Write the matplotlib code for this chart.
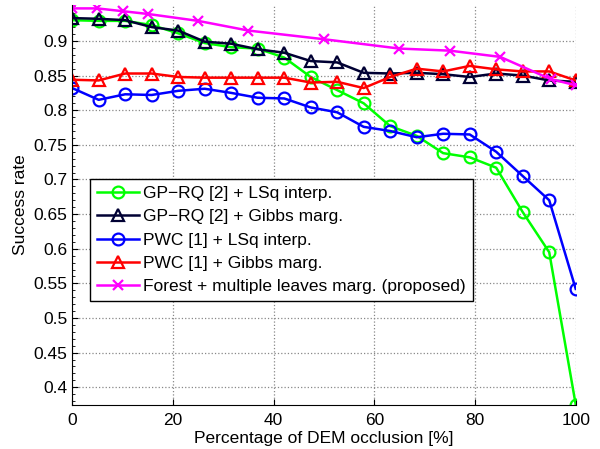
#!/usr/bin/env python3
"""
Plot success rate against DEM occlusion for the interpolation /
marginalisation variants and the proposed forest approach.
"""

import matplotlib
matplotlib.use('Agg')
import matplotlib.pyplot as plt
from matplotlib.ticker import MultipleLocator

# Occlusion levels shared by the four baseline curves (20 steps from 0 to 100 %)
OCCLUSION = [0, 5.26, 10.53, 15.79, 21.05, 26.32, 31.58, 36.84, 42.11, 47.37,
             52.63, 57.89, 63.16, 68.42, 73.68, 78.95, 84.21, 89.47, 94.74, 100]

GPRQ_LSQ = [0.930, 0.929, 0.929, 0.923, 0.911, 0.897, 0.891, 0.889, 0.876, 0.848,
            0.829, 0.810, 0.777, 0.763, 0.738, 0.732, 0.717, 0.653, 0.595, 0.375]
GPRQ_GIBBS = [0.933, 0.932, 0.930, 0.920, 0.915, 0.899, 0.896, 0.888, 0.883, 0.871,
              0.869, 0.854, 0.853, 0.854, 0.852, 0.848, 0.853, 0.850, 0.843, 0.841]
PWC_LSQ = [0.832, 0.815, 0.823, 0.822, 0.828, 0.831, 0.825, 0.818, 0.817, 0.804,
           0.797, 0.776, 0.770, 0.761, 0.766, 0.765, 0.740, 0.705, 0.670, 0.542]
PWC_GIBBS = [0.844, 0.843, 0.853, 0.853, 0.848, 0.847, 0.847, 0.847, 0.847, 0.840,
             0.841, 0.832, 0.848, 0.860, 0.856, 0.864, 0.859, 0.856, 0.856, 0.843]

# The proposed method was evaluated on its own set of occlusion levels
FOREST_OCCLUSION = [0, 5, 10, 15, 25, 35, 50, 65, 75, 85, 95, 100]
FOREST = [0.947, 0.947, 0.943, 0.939, 0.929, 0.915, 0.9025, 0.889, 0.886,
          0.877, 0.845, 0.836]

X_TICKS = [0, 20, 40, 60, 80, 100]
Y_TICKS = [0.4, 0.45, 0.5, 0.55, 0.6, 0.65, 0.7, 0.75, 0.8, 0.85, 0.9]


def main():
    plt.rcParams['font.family'] = ['Liberation Sans', 'DejaVu Sans']
    plt.rcParams['font.size'] = 12.5

    fig = plt.figure(figsize=(6.0, 4.49), dpi=100)
    ax = fig.add_axes([0.1203, 0.098, 0.8392, 0.891])

    common = dict(linewidth=1.8, markersize=8.5, markeredgewidth=1.6,
                  markerfacecolor='none')
    ax.plot(OCCLUSION, GPRQ_LSQ, marker='o', color='#00ff00',
            label='GP\u2212RQ [2] + LSq interp.', **common)
    ax.plot(OCCLUSION, GPRQ_GIBBS, marker='^', color='#000033',
            label='GP\u2212RQ [2] + Gibbs marg.', **common)
    ax.plot(OCCLUSION, PWC_LSQ, marker='o', color='#0000ff',
            label='PWC [1] + LSq interp.', **common)
    ax.plot(OCCLUSION, PWC_GIBBS, marker='^', color='#ff0000',
            label='PWC [1] + Gibbs marg.', **common)
    ax.plot(FOREST_OCCLUSION, FOREST, marker='x', color='#ff00ff',
            linewidth=1.8, markersize=7, markeredgewidth=1.6,
            label='Forest + multiple leaves marg. (proposed)')

    ax.set_xlim(0, 100)
    ax.set_ylim(0.3744, 0.952)
    ax.set_xticks(X_TICKS)
    ax.set_yticks(Y_TICKS)
    ax.set_yticklabels([f'{t:g}' for t in Y_TICKS])
    ax.yaxis.set_minor_locator(MultipleLocator(0.01))
    ax.tick_params(which='both', direction='in', top=False, right=False)
    ax.tick_params(which='major', length=4, width=0.8)
    ax.tick_params(axis='x', which='major', pad=6)
    ax.tick_params(which='minor', length=2, width=0.6)

    for side in ('top', 'right'):
        ax.spines[side].set_visible(False)

    ax.grid(True, which='major', linestyle=':', color='#888888', linewidth=0.9)
    ax.set_axisbelow(True)

    ax.set_xlabel('Percentage of DEM occlusion [%]', labelpad=2)
    ax.set_ylabel('Success rate', labelpad=4)

    leg = ax.legend(loc='upper left', bbox_to_anchor=(0.0354, 0.565),
                    frameon=True, fancybox=False, framealpha=1,
                    edgecolor='black', handlelength=2.4, handletextpad=0.25,
                    labelspacing=0.47, borderaxespad=0, borderpad=0.4)
    leg.get_frame().set_linewidth(1.0)

    fig.savefig('out.png', dpi=100)


if __name__ == '__main__':
    main()
